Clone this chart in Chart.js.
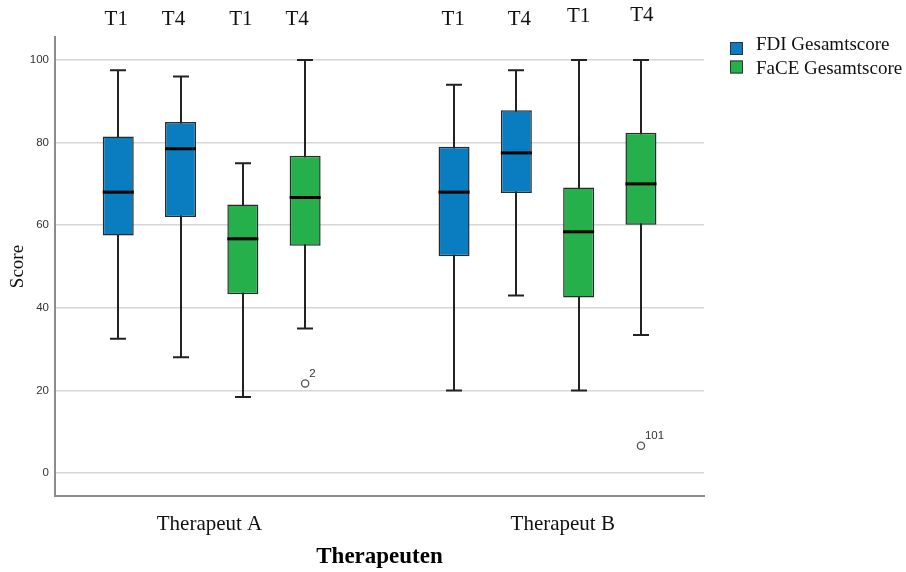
<!DOCTYPE html>
<html>
<head>
<meta charset="utf-8">
<script src="https://cdn.jsdelivr.net/npm/chart.js@4.4.1/dist/chart.umd.min.js"></script>
<style>
  html, body { margin: 0; padding: 0; background: #ffffff; }
  canvas { display: block; }
</style>
</head>
<body>
<canvas id="chart" width="906" height="572"></canvas>
<script>
// ---- data ----
const groups = ['Therapeut A', 'Therapeut B'];
const timepoints = ['T1', 'T4'];
const seriesNames = ['FDI Gesamtscore', 'FaCE Gesamtscore'];
const yTicks = [0, 20, 40, 60, 80, 100];

// box order: A-T1, A-T4, B-T1, B-T4
const fdiMin    = [32.5, 28.0, 20.0, 43.0];
const fdiQ1     = [57.5, 62.0, 52.5, 67.8];
const fdiMedian = [68.0, 78.5, 68.0, 77.5];
const fdiQ3     = [81.5, 85.0, 79.0, 87.8];
const fdiMax    = [97.5, 96.0, 94.0, 97.5];

const faceMin    = [18.4, 35.0, 20.0, 33.4];
const faceQ1     = [43.3, 55.0, 42.5, 60.1];
const faceMedian = [56.7, 66.7, 58.4, 70.0];
const faceQ3     = [65.0, 76.8, 69.1, 82.4];
const faceMax    = [75.0, 100.0, 100.0, 100.0];

const faceOutlierValue = [null, 21.7, null, 6.6];
const faceOutlierCase  = ['', '2', '', '101'];

// ---- layout on the x scale ----
const X_MAX = 10.417;
const groupStart = [0.015, 5.405];
const seriesSlot = [1, 3];
const groupLabelX = [2.48, 8.15];
const headerNudge = [[-2, 0], [-7, 0], [-2, 0], [-8, 0], [-1, 0], [3, 0], [0, -3.5], [1, -4]];

const COLORS = ['#0a7dc1', '#25b04c'];
const SERIF = '"Liberation Serif", "Times New Roman", serif';
const SANS = '"Liberation Sans", Arial, sans-serif';

function xPos(series, i) {
  const g = Math.floor(i / 2), t = i % 2;
  return groupStart[g] + seriesSlot[series] + t;
}

const stats = [
  { min: fdiMin, q1: fdiQ1, med: fdiMedian, q3: fdiQ3, max: fdiMax, out: [null, null, null, null], outCase: ['', '', '', ''] },
  { min: faceMin, q1: faceQ1, med: faceMedian, q3: faceQ3, max: faceMax, out: faceOutlierValue, outCase: faceOutlierCase }
];

const datasets = stats.map((s, si) => ({
  label: seriesNames[si],
  data: s.q1.map((q, i) => ({ x: xPos(si, i), y: [q, s.q3[i]] })),
  backgroundColor: COLORS[si],
  borderColor: '#2a2a2a',
  borderWidth: 1.5,
  borderSkipped: false,
  grouped: false,
  maxBarThickness: 31
}));

// whiskers, medians, outliers, header labels and legend
const boxplotParts = {
  id: 'boxplotParts',
  beforeDatasetsDraw(chart) {
    const { ctx, scales: { x, y } } = chart;
    ctx.save();
    ctx.strokeStyle = '#222222';
    ctx.lineWidth = 2;
    stats.forEach((s, si) => {
      s.min.forEach((lo, i) => {
        const px = Math.round(x.getPixelForValue(xPos(si, i)));
        const yl = y.getPixelForValue(lo), yh = y.getPixelForValue(s.max[i]);
        ctx.beginPath();
        ctx.moveTo(px, yl); ctx.lineTo(px, yh);
        ctx.moveTo(px - 8, yl); ctx.lineTo(px + 8, yl);
        ctx.moveTo(px - 8, yh); ctx.lineTo(px + 8, yh);
        ctx.stroke();
      });
    });
    ctx.restore();
  },
  afterDatasetsDraw(chart) {
    const { ctx, scales: { x, y } } = chart;
    ctx.save();
    stats.forEach((s, si) => {
      const meta = chart.getDatasetMeta(si);
      s.med.forEach((m, i) => {
        const bar = meta.data[i];
        const half = bar.width / 2;
        const ym = y.getPixelForValue(m);
        ctx.strokeStyle = '#000000';
        ctx.lineWidth = 3;
        ctx.beginPath();
        ctx.moveTo(bar.x - half, ym); ctx.lineTo(bar.x + half, ym);
        ctx.stroke();
        if (s.out[i] !== null) {
          const ox = x.getPixelForValue(xPos(si, i));
          const oy = y.getPixelForValue(s.out[i]);
          ctx.strokeStyle = '#555555';
          ctx.lineWidth = 1.3;
          ctx.fillStyle = '#ffffff';
          ctx.beginPath();
          ctx.arc(ox, oy, 3.6, 0, Math.PI * 2);
          ctx.fill(); ctx.stroke();
          ctx.fillStyle = '#333333';
          ctx.font = '11.5px ' + SANS;
          ctx.textAlign = 'left';
          ctx.textBaseline = 'middle';
          ctx.fillText(s.outCase[i], ox + 4, oy - 10);
        }
      });
    });

    // timepoint headers above each box
    ctx.fillStyle = '#111111';
    ctx.font = '21px ' + SERIF;
    ctx.textAlign = 'center';
    ctx.textBaseline = 'alphabetic';
    const order = [];
    [0, 1].forEach(g => {
      [0, 1].forEach(si => {
        [0, 1].forEach(t => order.push({ si, i: g * 2 + t, t }));
      });
    });
    order.forEach((o, k) => {
      const px = x.getPixelForValue(xPos(o.si, o.i));
      ctx.fillText(timepoints[o.t], px + headerNudge[k][0], 25 + headerNudge[k][1]);
    });

    // legend
    ctx.font = '19px ' + SERIF;
    ctx.textAlign = 'left';
    ctx.textBaseline = 'alphabetic';
    chart.data.datasets.forEach((ds, k) => {
      const top = 42 + k * 18.5;
      ctx.fillStyle = ds.backgroundColor;
      ctx.fillRect(730, top, 13, 13);
      ctx.strokeStyle = '#333333';
      ctx.lineWidth = 1;
      ctx.strokeRect(730.5, top + 0.5, 12, 12);
      ctx.fillStyle = '#111111';
      ctx.fillText(ds.label, 756, 50 + k * 24);
    });
    ctx.restore();
  }
};

new Chart(document.getElementById('chart'), {
  type: 'bar',
  data: { datasets },
  plugins: [boxplotParts],
  options: {
    responsive: false,
    animation: false,
    events: [],
    layout: { padding: { top: 37, right: 202, bottom: 0, left: 0 } },
    plugins: { legend: { display: false }, tooltip: { enabled: false } },
    scales: {
      x: {
        type: 'linear',
        offset: false,
        min: 0,
        max: X_MAX,
        afterBuildTicks: s => { s.ticks = groupLabelX.map(v => ({ value: v })); },
        afterFit: s => { s.height = 76; },
        grid: { display: false, drawTicks: false, offset: false },
        border: { display: true, color: '#8c8c8c', width: 2 },
        ticks: {
          autoSkip: false,
          maxRotation: 0,
          padding: 16,
          color: '#111111',
          font: { family: SERIF, size: 21 },
          callback: (v, i) => groups[i]
        },
        title: {
          display: true,
          text: 'Therapeuten',
          color: '#000000',
          font: { family: SERIF, size: 23, weight: 'bold' },
          padding: { top: 0, bottom: 1 }
        }
      },
      y: {
        min: -5.56,
        max: 105.56,
        afterBuildTicks: s => { s.ticks = yTicks.map(v => ({ value: v })); },
        afterFit: s => { s.width = 55; },
        grid: { color: '#d6d6d6', lineWidth: 1.5, drawTicks: false },
        border: { display: true, color: '#8c8c8c', width: 2 },
        ticks: {
          padding: 6,
          color: '#333333',
          font: { family: SANS, size: 11.5 }
        },
        title: {
          display: true,
          text: 'Score',
          color: '#111111',
          font: { family: SERIF, size: 19 },
          padding: { top: 7, bottom: 0 }
        }
      }
    }
  }
});
</script>
</body>
</html>
